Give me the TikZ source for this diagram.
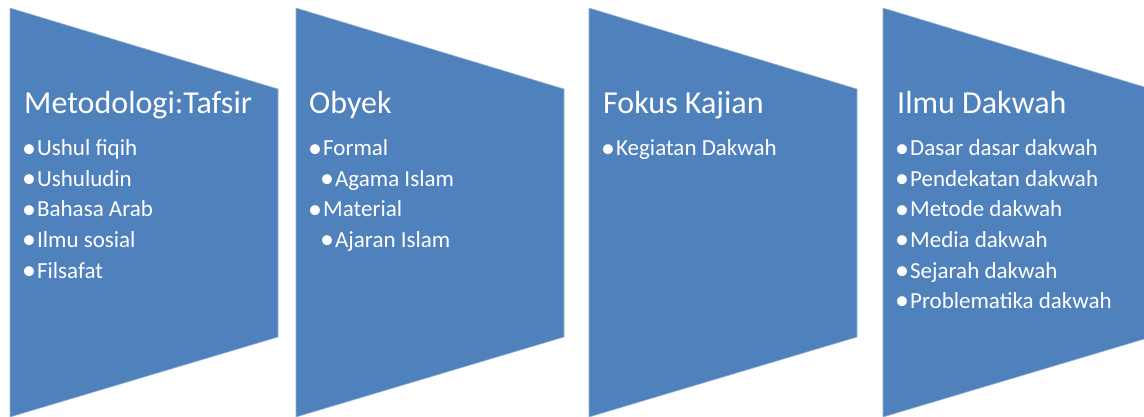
\documentclass[tikz,border=0pt]{standalone}
\usepackage{fontspec}
\setmainfont{Carlito}
\definecolor{smartblue}{RGB}{79,129,189}
\usetikzlibrary{positioning}
\newcommand\blt{\raisebox{-1.4pt}{\fontsize{28}{28}\selectfont•}\hspace{1pt}}
\tikzset{
  panel/.style={fill=smartblue, draw=smartblue!60!white, line width=0.6pt},
  heading/.style={text=white, inner sep=0pt, anchor=base west, font=\fontsize{32}{38}\selectfont},
  item/.style={text=white, inner sep=0pt, anchor=base west, font=\fontsize{23}{30}\selectfont}
}

\begin{document}
\begin{tikzpicture}[x=1pt,y=-1pt]
  \useasboundingbox (0,0) rectangle (1144,417);

  % the four panels
  \foreach \left/\name in {10/p1, 296/p2, 589/p3, 883/p4} {
    \path[panel] (\left,8) coordinate (\name)
      -- ++(268,81) -- ++(0,248) -- (\left,417) -- cycle;
  }

  % Metodologi
  \node[heading] (h1) at (24,114) {Metodologi:Tafsir};
  \foreach \txt [count=\i] in {Ushul fiqih, Ushuludin, Bahasa Arab, Ilmu sosial, Filsafat}
    \node[item] (a\i) at (22,125.5+30.5*\i) {\blt\txt};

  % Obyek
  \node[heading] (h2) at (309,114) {Obyek};
  \node[item] (b1) at (308,156) {\blt Formal};
  \node[item] (b2) at (320,186.5) {\blt Agama Islam};
  \node[item] (b3) at (308,217) {\blt Material};
  \node[item] (b4) at (320,247.5) {\blt Ajaran Islam};

  % Fokus Kajian
  \node[heading] (h3) at (603,114) {Fokus Kajian};
  \node[item] (c1) at (601,156) {\blt Kegiatan Dakwah};

  % Ilmu Dakwah
  \node[heading] (h4) at (897,114) {Ilmu Dakwah};
  \foreach \txt [count=\i] in {Dasar dasar dakwah, Pendekatan dakwah, Metode dakwah,
      Media dakwah, Sejarah dakwah, Problematika dakwah}
    \node[item] (d\i) at (895,125.5+30.5*\i) {\blt\txt};
\end{tikzpicture}
\end{document}
